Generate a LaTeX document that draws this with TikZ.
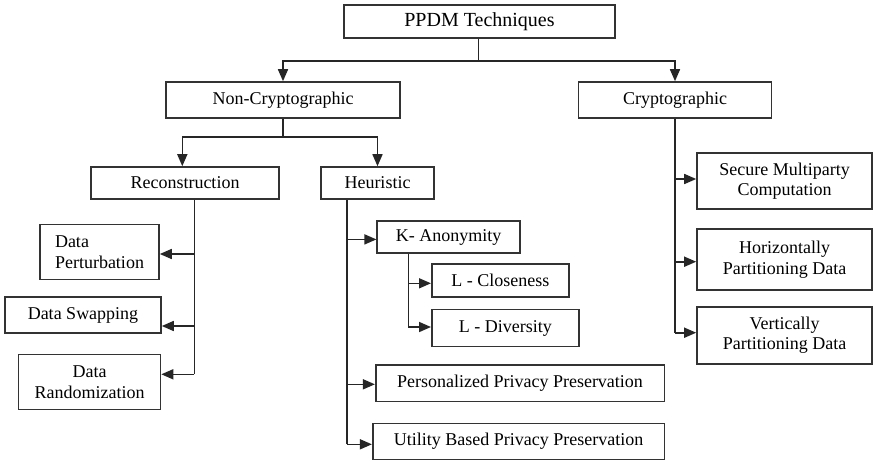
\documentclass[tikz,border=0pt]{standalone}
\usepackage{fontspec}
\setmainfont{Liberation Serif}
\usetikzlibrary{arrows.meta}
\begin{document}
\begin{tikzpicture}[x=1pt,y=-1pt,
  box/.style 2 args={draw=black!80,line width=1.6pt,inner sep=2pt,
    minimum width=#1pt,minimum height=#2pt,text=black,
    font=\fontsize{18}{20.5}\selectfont,align=center},
  link/.style={draw=black!85,line width=1.6pt},
  arr/.style={link,-{Triangle[length=12pt,width=10pt]}}]
\fill[white] (0,0) rectangle (874,461);
\useasboundingbox (0,0) rectangle (874,461);

% root and first level
\node[box={271}{33},font=\fontsize{20}{22}\selectfont] (ppdm) at (479.5,21.5) {PPDM Techniques};
\node[box={234}{36}] (noncrypto) at (283,100) {Non-Cryptographic};
\node[box={193}{36}] (crypto) at (675,100) {Cryptographic};

% non-cryptographic branch
\node[box={188}{32}] (recon) at (185,183) {Reconstruction};
\node[box={113}{32}] (heur) at (377.5,183) {Heuristic};

% reconstruction leaves
\node[box={119}{55},align=left] (perturb) at (99.5,252) {Data\\Perturbation};
\node[box={156}{36}] (swap) at (83,315) {Data Swapping};
\node[box={142}{55}] (random) at (89.5,382) {Data\\Randomization};

% heuristic leaves
\node[box={143}{32}] (kanon) at (448.7,237) {K- Anonymity};
\node[box={137}{33}] (lclose) at (500.3,280.7) {L - Closeness};
\node[box={147}{37}] (ldiv) at (505.3,328) {L - Diversity};
\node[box={288.6}{36.7}] (perso) at (520,383.3) {Personalized Privacy Preservation};
\node[box={291.6}{36}] (util) at (518.5,441.5) {Utility Based Privacy Preservation};

% cryptographic leaves
\node[box={175}{56}] (secure) at (784.5,181) {Secure Multiparty\\Computation};
\node[box={175}{61}] (horiz) at (784.5,259.7) {Horizontally\\Partitioning Data};
\node[box={175}{57}] (vert) at (784.5,335.3) {Vertically\\Partitioning Data};

% root split
\coordinate (j0) at (478.3,61);
\draw[link] (ppdm.south -| j0) -- (j0);
\draw[arr] (j0) -| (noncrypto.north);
\draw[arr] (j0) -| (crypto.north);

% non-cryptographic split
\coordinate (j1) at (283,137);
\draw[link] (noncrypto.south) -- (j1);
\draw[arr] (j1) -| ([xshift=-2.7pt]recon.north);
\draw[arr] (j1) -| (heur.north);

% reconstruction trunk
\coordinate (r1) at (194.3,254);
\coordinate (r2) at (194.3,326);
\coordinate (r3) at (194.3,374.3);
\draw[link] (recon.south -| r1) -- (r3);
\draw[arr] (r1) -- (r1 -| perturb.east);
\draw[arr] (r2) -- (r2 -| swap.east);
\draw[arr] (r3) -- (r3 -| random.east);

% heuristic trunk
\coordinate (h1) at (346.7,239.4);
\coordinate (h2) at (346.7,384.3);
\coordinate (h3) at (346.7,444.3);
\draw[link] (heur.south -| h1) -- (h3);
\draw[arr] (h1) -- (h1 -| kanon.west);
\draw[arr] (h2) -- (h2 -| perso.west);
\draw[arr] (h3) -- (h3 -| util.west);

% k-anonymity trunk
\coordinate (k1) at (408.3,283.3);
\coordinate (k2) at (408.3,327);
\draw[link] (kanon.south -| k1) -- (k2);
\draw[arr] (k1) -- (k1 -| lclose.west);
\draw[arr] (k2) -- (k2 -| ldiv.west);

% cryptographic trunk
\coordinate (c1) at (675,179);
\coordinate (c2) at (675,261.7);
\coordinate (c3) at (675,332.7);
\draw[link] (crypto.south) -- (c3);
\draw[arr] (c1) -- (c1 -| secure.west);
\draw[arr] (c2) -- (c2 -| horiz.west);
\draw[arr] (c3) -- (c3 -| vert.west);
\end{tikzpicture}
\end{document}
